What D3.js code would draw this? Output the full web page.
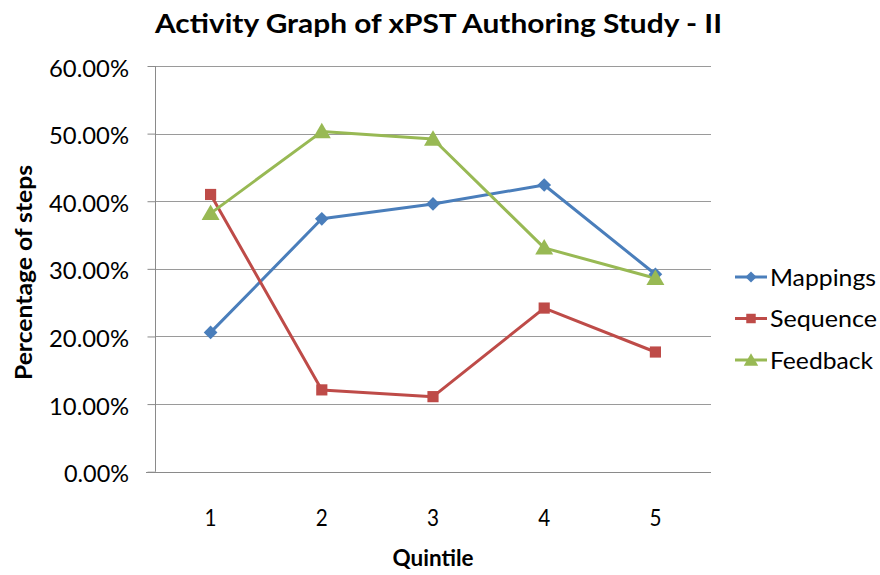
<!DOCTYPE html>
<html><head><meta charset="utf-8">
<script src="https://cdn.jsdelivr.net/npm/d3@7/dist/d3.min.js"></script>
<style>
html,body{margin:0;padding:0;background:#fff;}
text{font-family:Lato,"Open Sans",sans-serif;fill:#000;}
</style></head>
<body>
<svg id="chart" width="880" height="575"></svg>
<script>
const categories = ["1","2","3","4","5"];
const seriesNames = ["Mappings","Sequence","Feedback"];
const mappings = [0.206, 0.374, 0.396, 0.424, 0.292];
const sequence = [0.410, 0.121, 0.111, 0.242, 0.177];
const feedback = [0.382, 0.503, 0.492, 0.331, 0.286];
const yTicks = [0, 0.1, 0.2, 0.3, 0.4, 0.5, 0.6];
const titleText = "Activity Graph of xPST Authoring Study - II";
const xTitle = "Quintile";
const yTitle = "Percentage of steps";

const colors = ["#4A7EBB", "#BE4B48", "#98B954"];
const symbols = [d3.symbolDiamond2, d3.symbolSquare, d3.symbolTriangle];
const seriesData = [mappings, sequence, feedback];

const svg = d3.select("#chart");
const L = 155, R = 711, T = 66, B = 471.7;
const x = d3.scaleBand().domain(categories).range([L, R]);
const y = d3.scaleLinear().domain([0, 0.6]).range([B, T]);

function fit(sel, w) {
  sel.attr("textLength", w).attr("lengthAdjust", "spacingAndGlyphs");
}

// gridlines
svg.append("g").selectAll("line").data(yTicks.filter(d => d > 0)).join("line")
  .attr("x1", L).attr("x2", R)
  .attr("y1", d => Math.round(y(d)) + 0.5).attr("y2", d => Math.round(y(d)) + 0.5)
  .attr("stroke", "#9a9a9a").attr("stroke-width", 1);

// y axis
const yAxis = svg.append("g").attr("transform", `translate(${L + 0.5},0)`)
  .call(d3.axisLeft(y).tickValues(yTicks).tickFormat(d3.format(".2%")).tickSize(8).tickPadding(18));
yAxis.select(".domain").attr("stroke", "#8a8a8a").attr("d", `M0,${B}V${T}`);
yAxis.selectAll(".tick line").attr("stroke", "#8a8a8a");
yAxis.selectAll(".tick text").attr("x", -26.5).attr("font-size", 22.5).attr("dy", "0.45em")
  .attr("font-family", "Lato")
  .each(function(d) { d3.select(this).call(fit, d >= 0.1 ? 80 : 65); });

// x axis
const xAxis = svg.append("g").attr("transform", `translate(0,${Math.round(B) + 0.5})`)
  .call(d3.axisBottom(x).tickSize(0).tickPadding(0));
xAxis.select(".domain").attr("stroke", "#8a8a8a").attr("d", `M${L - 9},0H${R}`);
xAxis.selectAll(".tick text").attr("y", 53).attr("dy", 0).attr("font-size", 22.5).attr("font-family", "Lato").call(fit, 12);

// lines and markers
const line = d3.line().x((d, i) => x(categories[i]) + x.bandwidth() / 2).y(d => y(d));
seriesData.forEach((vals, s) => {
  svg.append("path").datum(vals).attr("d", line)
    .attr("fill", "none").attr("stroke", colors[s]).attr("stroke-width", 3).attr("stroke-linejoin", "round");
});
seriesData.forEach((vals, s) => {
  const size = s === 0 ? 120 : (s === 1 ? 125 : 140);
  svg.append("g").selectAll("path").data(vals).join("path")
    .attr("transform", (d, i) => `translate(${x(categories[i]) + x.bandwidth() / 2},${y(d) + (s === 2 ? 1.5 : 0)})`)
    .attr("d", d3.symbol(symbols[s], size))
    .attr("fill", colors[s]);
});

// title
svg.append("text").attr("x", 438.5).attr("y", 33).attr("text-anchor", "middle")
  .attr("font-size", 27).attr("font-weight", "bold").text(titleText).call(fit, 567);

// axis titles
svg.append("text").attr("x", 433).attr("y", 566).attr("text-anchor", "middle")
  .attr("font-size", 23).attr("font-weight", "bold").text(xTitle).call(fit, 81);
svg.append("text").attr("transform", "translate(32,272.5) rotate(-90)").attr("text-anchor", "middle")
  .attr("font-size", 23).attr("font-weight", "bold").text(yTitle).call(fit, 215);

// legend
const leg = svg.append("g");
const legY = [277, 318.5, 360];
const legW = [106, 107, 103];
seriesNames.forEach((name, s) => {
  const g = leg.append("g").attr("transform", `translate(0,${legY[s]})`);
  g.append("line").attr("x1", 735).attr("x2", 767).attr("y1", 0).attr("y2", 0)
    .attr("stroke", colors[s]).attr("stroke-width", 3);
  g.append("path").attr("transform", `translate(751,${s === 2 ? 1.5 : 0})`)
    .attr("d", d3.symbol(symbols[s], s === 0 ? 80 : 90)).attr("fill", colors[s]);
  g.append("text").attr("x", 770).attr("y", 0).attr("dy", "0.38em")
    .attr("font-size", 23).text(name).call(fit, legW[s]);
});
</script>
</body></html>
